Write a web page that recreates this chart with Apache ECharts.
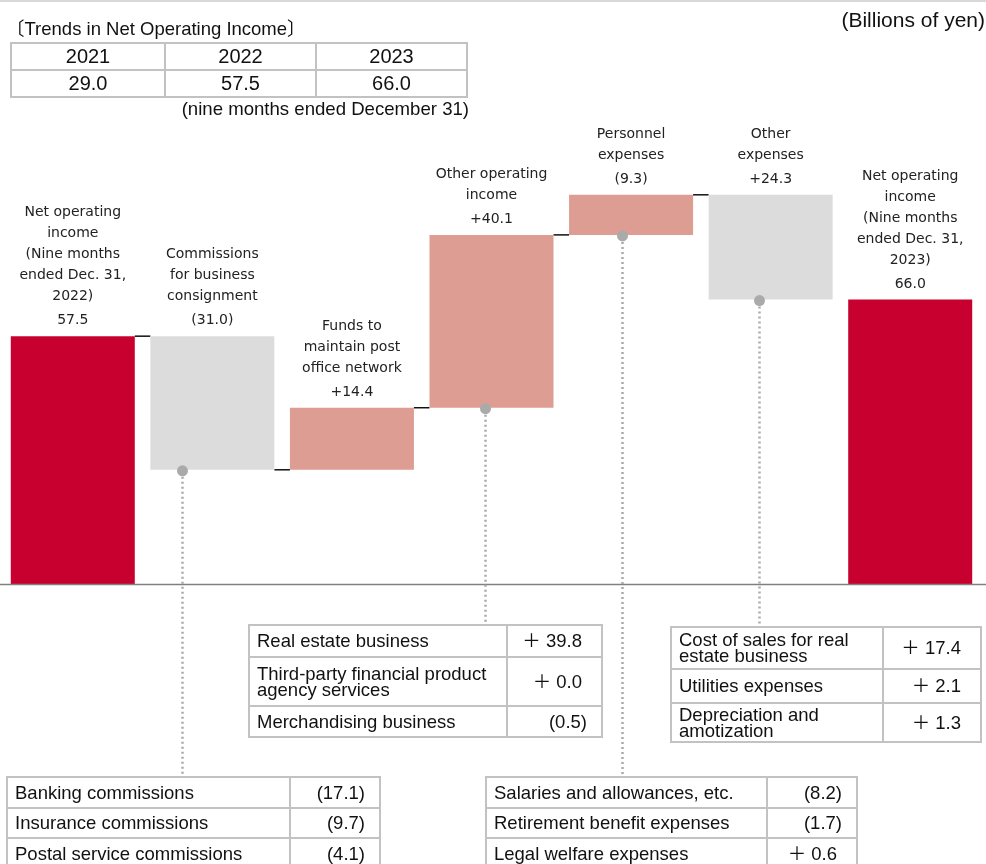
<!DOCTYPE html>
<html>
<head>
<meta charset="utf-8">
<title>Net Operating Income Waterfall</title>
<script src="https://cdn.jsdelivr.net/npm/echarts@6/dist/echarts.min.js"></script>
<style>
  html, body { margin: 0; padding: 0; background: #ffffff; }
  #chart { width: 986px; height: 864px; }
</style>
</head>
<body>
<div id="chart"></div>
<script>
// ---- Data (billions of yen) ----
const categoryLabels = [
  'Net operating\nincome\n(Nine months\nended Dec. 31,\n2022)',
  'Commissions\nfor business\nconsignment',
  'Funds to\nmaintain post\noffice network',
  'Other operating\nincome',
  'Personnel\nexpenses',
  'Other\nexpenses',
  'Net operating\nincome\n(Nine months\nended Dec. 31,\n2023)'
];
const openingIncome = 57.5;
const closingIncome = 66.0;
// Year-on-year change of each line item as reported
const reportedChanges = [-31.0, 14.4, 40.1, -9.3, 24.3];
// Expense lines reduce income when they grow
const itemKinds = ['income', 'income', 'income', 'expense', 'expense'];

const trendYears = ['2021', '2022', '2023'];
const trendValues = [29.0, 57.5, 66.0];

const commissionBreakdown = [
  ['Banking commissions', -17.1],
  ['Insurance commissions', -9.7],
  ['Postal service commissions', -4.1]
];
const otherIncomeBreakdown = [
  ['Real estate business', 39.8],
  ['Third-party financial product\nagency services', 0.0],
  ['Merchandising business', -0.5]
];
const personnelBreakdown = [
  ['Salaries and allowances, etc.', -8.2],
  ['Retirement benefit expenses', -1.7],
  ['Legal welfare expenses', 0.6]
];
const otherExpenseBreakdown = [
  ['Cost of sales for real\nestate business', 17.4],
  ['Utilities expenses', 2.1],
  ['Depreciation and\namotization', 1.3]
];

// ---- Styling ----
const RED = '#C8002F';
const PINK = '#DD9D92';
const GREY = '#DCDCDC';
const LEADER = '#AAAAAA';
const BORDER = '#C2C2C2';
const BAR_W = 124;
const LABEL_FONT = '"DejaVu Sans", Verdana, sans-serif';
const TABLE_FONT = '"Liberation Sans", Arial, "Noto Sans CJK JP", sans-serif';

// ---- Waterfall geometry derived from the data ----
const impacts = reportedChanges.map((v, i) => itemKinds[i] === 'expense' ? -v : v);
const levels = [openingIncome];
impacts.forEach(d => levels.push(+(levels[levels.length - 1] + d).toFixed(1)));

const baseData = [0];
const barData = [{ value: openingIncome, itemStyle: { color: RED } }];
const labelTexts = [openingIncome.toFixed(1)];
impacts.forEach((d, i) => {
  const before = levels[i], after = levels[i + 1];
  baseData.push(Math.min(before, after));
  barData.push({ value: Math.abs(d), itemStyle: { color: d >= 0 ? PINK : GREY } });
  const r = reportedChanges[i];
  labelTexts.push(r < 0 ? '(' + Math.abs(r).toFixed(1) + ')' : '+' + r.toFixed(1));
});
baseData.push(0);
barData.push({ value: closingIncome, itemStyle: { color: RED } });
labelTexts.push(closingIncome.toFixed(1));

// connectors: level reached after each bar
const connectorData = levels.map((lv, i) => [i, lv]);
// leader dots sit at the lower edge of each itemised bar
const leaderItems = [1, 3, 4, 5];
const leaderData = leaderItems.map(i => [i, Math.min(levels[i - 1], levels[i])]);
const leaderLayout = {
  1: { dx: -30, endY: 775 },
  3: { dx: -6, endY: 624 },
  4: { dx: -9, endY: 776 },
  5: { dx: -12, endY: 626 }
};

const chart = echarts.init(document.getElementById('chart'), null, { renderer: 'canvas' });

chart.setOption({
  animation: false,
  backgroundColor: '#ffffff',
  grid: { left: 3, right: 6, top: 153, bottom: 280, containLabel: false },
  xAxis: {
    type: 'category',
    data: categoryLabels,
    axisLine: { show: false },
    axisTick: { show: false },
    axisLabel: { show: false },
    splitLine: { show: false }
  },
  yAxis: {
    type: 'value',
    min: 0,
    max: 100,
    show: false,
    splitLine: { show: false }
  },
  series: [
    {
      name: 'base',
      type: 'bar',
      stack: 'wf',
      barWidth: BAR_W,
      itemStyle: { color: 'transparent' },
      emphasis: { disabled: true },
      data: baseData
    },
    {
      name: 'amount',
      type: 'bar',
      stack: 'wf',
      barWidth: BAR_W,
      data: barData,
      label: {
        show: true,
        position: 'top',
        distance: 2,
        formatter: p => {
          const lines = categoryLabels[p.dataIndex].split('\n').map(t => '{n|' + t + '}');
          return lines.join('\n') + '\n{v|' + labelTexts[p.dataIndex] + '}';
        },
        rich: {
          n: { fontFamily: LABEL_FONT, fontSize: 14, lineHeight: 21, color: '#222', align: 'center' },
          v: { fontFamily: LABEL_FONT, fontSize: 14, lineHeight: 27, color: '#222', align: 'center' }
        }
      }
    },
    {
      name: 'connectors',
      type: 'custom',
      silent: true,
      data: connectorData.slice(0, connectorData.length - 1),
      renderItem: (params, api) => {
        const i = api.value(0);
        const lv = api.value(1);
        const a = api.coord([i, lv]);
        const b = api.coord([i + 1, lv]);
        return {
          type: 'line',
          shape: { x1: a[0] + BAR_W / 2, y1: a[1], x2: b[0] - BAR_W / 2, y2: b[1] },
          style: { stroke: '#111', lineWidth: 1.5 }
        };
      }
    },
    {
      name: 'leaders',
      type: 'custom',
      silent: true,
      z: 5,
      data: leaderData,
      renderItem: (params, api) => {
        const i = api.value(0);
        const p = api.coord([i, api.value(1)]);
        const lay = leaderLayout[i];
        const x = Math.round(p[0] + lay.dx) + 0.5;
        return {
          type: 'group',
          children: [
            {
              type: 'line',
              shape: { x1: x, y1: p[1] + 2, x2: x, y2: lay.endY },
              style: { stroke: LEADER, lineWidth: 2.5, lineDash: [2, 3] }
            },
            {
              type: 'circle',
              shape: { cx: x, cy: p[1] + 1, r: 5.5 },
              style: { fill: LEADER }
            }
          ]
        };
      }
    }
  ]
});

// ---- Tables and annotations ----
function fmtDetail(v) {
  return v < 0 ? '(' + Math.abs(v).toFixed(1) + ')' : '\uFF0B ' + v.toFixed(1);
}

function detailTable(x, y, colWidths, rowHeights, rows) {
  const els = [];
  const total = colWidths[0] + colWidths[1];
  let cy = y;
  rows.forEach((row, r) => {
    const h = rowHeights[r];
    els.push({
      type: 'rect', silent: true,
      shape: { x: x, y: cy, width: colWidths[0], height: h },
      style: { fill: '#fff', stroke: BORDER, lineWidth: 2 }
    });
    els.push({
      type: 'rect', silent: true,
      shape: { x: x + colWidths[0], y: cy, width: colWidths[1], height: h },
      style: { fill: '#fff', stroke: BORDER, lineWidth: 2 }
    });
    els.push({
      type: 'text', silent: true, z: 10,
      style: {
        text: row[0], x: x + 8, y: cy + h / 2 + 1,
        textAlign: 'left', textVerticalAlign: 'middle',
        font: '18.5px ' + TABLE_FONT, fill: '#111', lineHeight: 16
      }
    });
    els.push({
      type: 'text', silent: true, z: 10,
      style: {
        text: fmtDetail(row[1]), x: x + total - (row[1] < 0 ? 15 : 20), y: cy + h / 2 + 1,
        textAlign: 'right', textVerticalAlign: 'middle',
        font: '18.5px ' + TABLE_FONT, fill: '#111'
      }
    });
    cy += h;
  });
  return els;
}

function trendTable(x, y, colWidths, rowH) {
  const els = [];
  let cx = x;
  trendYears.forEach((yr, i) => {
    const w = colWidths[i];
    [yr, trendValues[i].toFixed(1)].forEach((t, r) => {
      els.push({
        type: 'rect', silent: true,
        shape: { x: cx, y: y + r * rowH, width: w, height: rowH },
        style: { fill: '#fff', stroke: BORDER, lineWidth: 2 }
      });
      els.push({
        type: 'text', silent: true, z: 10,
        style: {
          text: t, x: cx + w / 2, y: y + r * rowH + rowH / 2 + 1,
          textAlign: 'center', textVerticalAlign: 'middle',
          font: '20px ' + TABLE_FONT, fill: '#111'
        }
      });
    });
    cx += w;
  });
  return els;
}

const baselineY = chart.convertToPixel({ yAxisIndex: 0 }, 0);

const graphics = [
  { type: 'rect', silent: true, shape: { x: 0, y: 0, width: 986, height: 2 }, style: { fill: '#D9D9D9' } },
  {
    type: 'line', silent: true, z: 4,
    shape: { x1: 0, y1: baselineY + 0.5, x2: 986, y2: baselineY + 0.5 },
    style: { stroke: '#808080', lineWidth: 1.5 }
  },
  {
    type: 'text', silent: true,
    style: { text: '(Billions of yen)', x: 985, y: 21, textAlign: 'right', textVerticalAlign: 'middle',
      font: '21px ' + TABLE_FONT, fill: '#111' }
  },
  {
    type: 'text', silent: true,
    style: { text: '\u3014Trends in Net Operating Income\u3015', x: 6, y: 30, textAlign: 'left', textVerticalAlign: 'middle',
      font: '18.5px ' + TABLE_FONT, fill: '#111' }
  },
  {
    type: 'text', silent: true,
    style: { text: '(nine months ended December 31)', x: 469, y: 110, textAlign: 'right', textVerticalAlign: 'middle',
      font: '18.6px ' + TABLE_FONT, fill: '#111' }
  }
]
  .concat(trendTable(11, 43, [154, 151, 151], 27))
  .concat(detailTable(249, 625, [258, 95], [32, 49, 31], otherIncomeBreakdown))
  .concat(detailTable(671, 627, [212, 98], [42, 34, 39], otherExpenseBreakdown))
  .concat(detailTable(7, 777, [283, 90], [31, 30, 31], commissionBreakdown))
  .concat(detailTable(486, 777, [281, 90], [31, 30, 31], personnelBreakdown));

chart.setOption({ graphic: graphics });
</script>
</body>
</html>
